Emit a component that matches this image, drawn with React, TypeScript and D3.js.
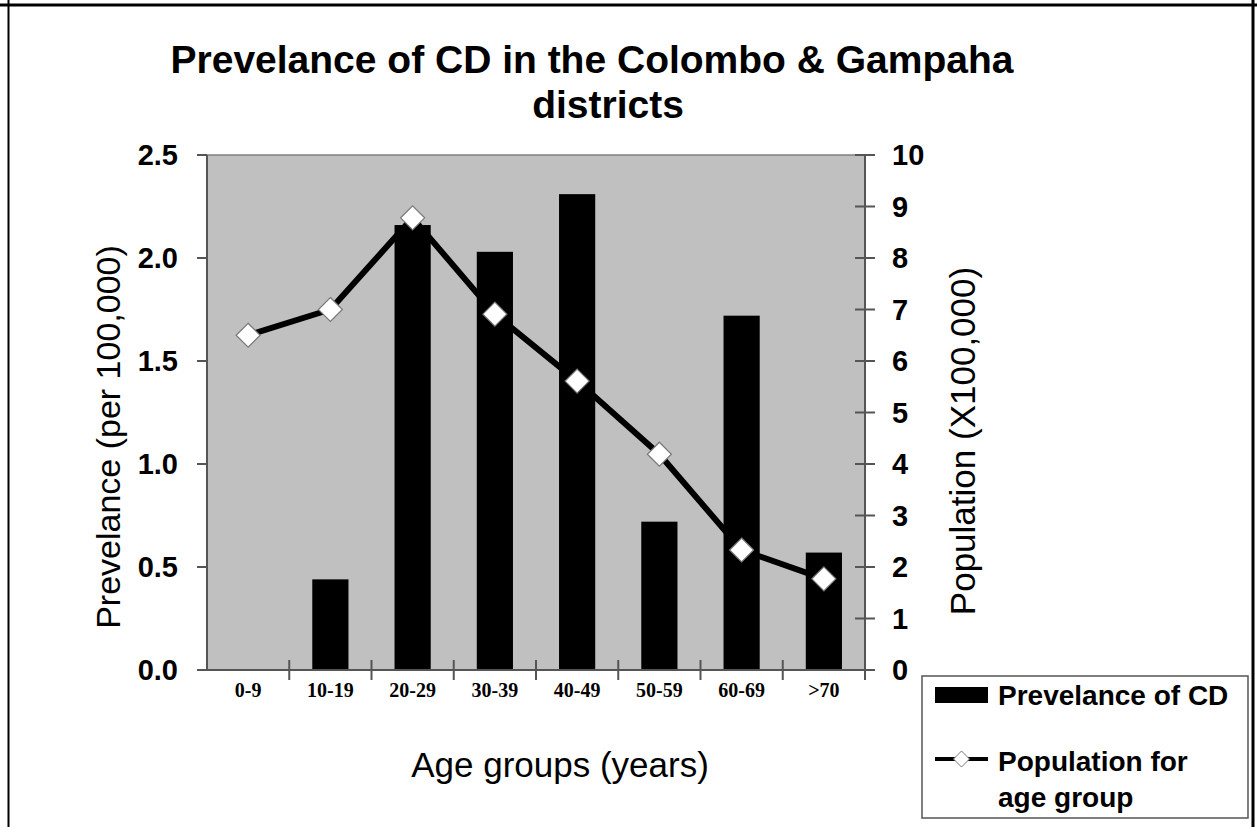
import React from "react";
import * as d3 from "d3";

const categories = ["0-9", "10-19", "20-29", "30-39", "40-49", "50-59", "60-69", ">70"];
const prevalence = [0, 0.44, 2.16, 2.03, 2.31, 0.72, 1.72, 0.57];
const population = [6.5, 7.0, 8.78, 6.91, 5.61, 4.19, 2.33, 1.77];
const leftTicks = [0, 0.5, 1.0, 1.5, 2.0, 2.5];
const rightTicks = [0, 1, 2, 3, 4, 5, 6, 7, 8, 9, 10];

const W = 1257;
const H = 827;
const PL = 207, PR = 865, PT = 155, PB = 670;

export default function App() {
  const x = d3.scaleBand<string>().domain(categories).range([PL, PR]).padding(0);
  const yL = d3.scaleLinear().domain([0, 2.5]).range([PB, PT]);
  const yR = d3.scaleLinear().domain([0, 10]).range([PB, PT]);
  const bw = x.bandwidth() * 0.44;
  const cx = (c: string) => (x(c) as number) + x.bandwidth() / 2;
  const line = d3
    .line<number>()
    .x((_, i) => cx(categories[i]))
    .y((d) => yR(d));
  const diamond = (px: number, py: number, r: number) =>
    `M${px},${py - r}L${px + r},${py}L${px},${py + r}L${px - r},${py}Z`;
  const sans = "'Liberation Sans', Arial, sans-serif";
  const serif = "'Liberation Serif', 'Times New Roman', serif";
  const boundaries = categories.map((c) => (x(c) as number) + x.bandwidth());

  return (
    <svg
      width={W}
      height={H}
      style={{ position: "absolute", left: 0, top: 0, background: "#fff" }}
    >
      {/* frame */}
      <line x1={0} y1={5} x2={W} y2={5} stroke="#000" strokeWidth={3} />
      <line x1={8.5} y1={0} x2={8.5} y2={H} stroke="#000" strokeWidth={2} />
      <line x1={1253} y1={0} x2={1253} y2={H} stroke="#000" strokeWidth={3} />

      {/* title */}
      <text x={592} y={73} textAnchor="middle" fontFamily={sans} fontWeight="bold" fontSize={39}>
        Prevelance of CD in the Colombo &amp; Gampaha
      </text>
      <text x={608} y={118} textAnchor="middle" fontFamily={sans} fontWeight="bold" fontSize={39}>
        districts
      </text>

      {/* plot area */}
      <rect x={PL} y={PT} width={PR - PL} height={PB - PT} fill="#C0C0C0" stroke="#808080" strokeWidth={1.5} />

      {/* bars */}
      {categories.map((c, i) =>
        prevalence[i] > 0 ? (
          <rect
            key={c}
            x={cx(c) - bw / 2}
            y={yL(prevalence[i])}
            width={bw}
            height={PB - yL(prevalence[i])}
            fill="#000"
          />
        ) : null
      )}

      {/* axes */}
      <line x1={PL} y1={PT} x2={PL} y2={PB} stroke="#555" strokeWidth={2} />
      <line x1={PR} y1={PT} x2={PR} y2={PB} stroke="#555" strokeWidth={2} />
      <line x1={PL - 2} y1={PB} x2={PR + 4} y2={PB} stroke="#555" strokeWidth={2} />
      {leftTicks.map((t) => (
        <g key={"l" + t}>
          <line x1={PL - 10} y1={yL(t)} x2={PL} y2={yL(t)} stroke="#555" strokeWidth={2} />
          <text
            x={178}
            y={yL(t)}
            dy="0.36em"
            textAnchor="end"
            fontFamily={sans}
            fontWeight="bold"
            fontSize={29}
          >
            {t.toFixed(1)}
          </text>
        </g>
      ))}
      {rightTicks.map((t) => (
        <g key={"r" + t}>
          <line x1={PR - 10} y1={yR(t)} x2={PR + 10} y2={yR(t)} stroke="#555" strokeWidth={2} />
          <text
            x={892}
            y={yR(t)}
            dy="0.36em"
            textAnchor="start"
            fontFamily={sans}
            fontWeight="bold"
            fontSize={29}
          >
            {t}
          </text>
        </g>
      ))}
      {boundaries.map((b, i) => (
        <line key={"xb" + i} x1={b} y1={PB - 10} x2={b} y2={PB + 10} stroke="#555" strokeWidth={2} />
      ))}
      {categories.map((c) => (
        <text
          key={"xl" + c}
          x={cx(c)}
          y={697}
          textAnchor="middle"
          fontFamily={serif}
          fontWeight="bold"
          fontSize={20}
        >
          {c}
        </text>
      ))}

      {/* line series */}
      <path d={line(population) as string} fill="none" stroke="#000" strokeWidth={6} strokeLinejoin="round" />
      {population.map((v, i) => (
        <path
          key={"m" + i}
          d={diamond(cx(categories[i]), yR(v), 12)}
          fill="#fff"
          stroke="#777"
          strokeWidth={1.2}
        />
      ))}

      {/* axis titles */}
      <text
        transform={`translate(120,437) rotate(-90)`}
        textAnchor="middle"
        fontFamily={sans}
        fontSize={34}
      >
        Prevelance (per 100,000)
      </text>
      <text
        transform={`translate(975,441) rotate(-90)`}
        textAnchor="middle"
        fontFamily={sans}
        fontSize={35}
      >
        Population (X100,000)
      </text>
      <text x={560} y={777} textAnchor="middle" fontFamily={sans} fontSize={35}>
        Age groups (years)
      </text>

      {/* legend */}
      <rect x={922} y={676} width={326} height={142} fill="#fff" stroke="#555" strokeWidth={1.5} />
      <rect x={935} y={687} width={53} height={16} fill="#000" />
      <text x={998} y={705} fontFamily={sans} fontWeight="bold" fontSize={28}>
        Prevelance of CD
      </text>
      <line x1={935} y1={759} x2={988} y2={759} stroke="#000" strokeWidth={4} />
      <path d={diamond(961.5, 759, 8)} fill="#fff" stroke="#777" strokeWidth={1} />
      <text x={998} y={771} fontFamily={sans} fontWeight="bold" fontSize={28}>
        Population for
      </text>
      <text x={998} y={807} fontFamily={sans} fontWeight="bold" fontSize={28}>
        age group
      </text>
    </svg>
  );
}
